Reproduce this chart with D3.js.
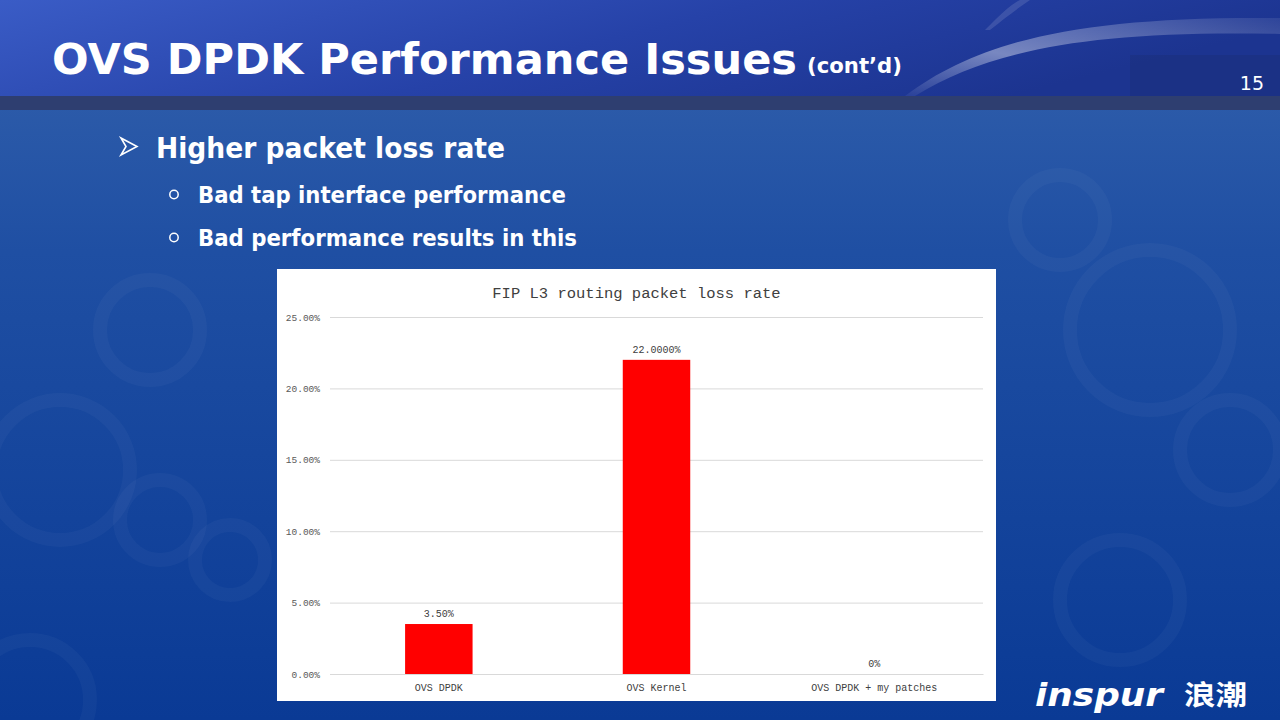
<!DOCTYPE html>
<html>
<head>
<meta charset="utf-8">
<script src="https://cdn.jsdelivr.net/npm/d3@7"></script>
<style>
  html, body { margin: 0; padding: 0; background: #0c3d96; }
  svg { display: block; }
</style>
</head>
<body>
<svg id="slide" width="1280" height="720"></svg>
<script>
// ---- data ----
const categories = ["OVS DPDK", "OVS Kernel", "OVS DPDK + my patches"];
const values = [0.035, 0.22, 0];
const valueLabels = ["3.50%", "22.0000%", "0%"];
const yTicks = [0, 0.05, 0.10, 0.15, 0.20, 0.25];
const chartTitle = "FIP L3 routing packet loss rate";
const slideTitle = "OVS DPDK Performance Issues";
const slideTitleSuffix = "(cont\u2019d)";
const pageNumber = "15";
const bullet = "Higher packet loss rate";
const subBullets = ["Bad tap interface performance", "Bad performance results in this"];

const svg = d3.select("#slide");
const defs = svg.append("defs");

// background gradients
const bodyGrad = defs.append("linearGradient").attr("id", "bodyGrad")
  .attr("x1", 0).attr("y1", 0).attr("x2", 0).attr("y2", 1);
bodyGrad.append("stop").attr("offset", "0%").attr("stop-color", "#3462ad");
bodyGrad.append("stop").attr("offset", "35%").attr("stop-color", "#1f4fa3");
bodyGrad.append("stop").attr("offset", "100%").attr("stop-color", "#0a3a95");

const headGrad = defs.append("linearGradient").attr("id", "headGrad")
  .attr("x1", 0).attr("y1", 0).attr("x2", 1).attr("y2", 0.3);
headGrad.append("stop").attr("offset", "0%").attr("stop-color", "#3a5cc6");
headGrad.append("stop").attr("offset", "55%").attr("stop-color", "#2642a8");
headGrad.append("stop").attr("offset", "100%").attr("stop-color", "#1c3490");

const swoosh = defs.append("linearGradient").attr("id", "swoosh")
  .attr("x1", 0).attr("y1", 1).attr("x2", 1).attr("y2", 0);
swoosh.append("stop").attr("offset", "0%").attr("stop-color", "#ffffff").attr("stop-opacity", 0.05);
swoosh.append("stop").attr("offset", "40%").attr("stop-color", "#ffffff").attr("stop-opacity", 0.4);
swoosh.append("stop").attr("offset", "100%").attr("stop-color", "#ffffff").attr("stop-opacity", 0.08);

svg.append("rect").attr("x", 0).attr("y", 0).attr("width", 1280).attr("height", 720).attr("fill", "url(#bodyGrad)");

// decorative swirls
const swirls = [[60, 470, 70], [160, 520, 40], [230, 560, 35], [30, 700, 60], [1150, 330, 80], [1230, 450, 50], [1120, 600, 60], [150, 330, 50], [1060, 220, 45]];
svg.append("g").selectAll("circle").data(swirls).join("circle")
  .attr("cx", d => d[0]).attr("cy", d => d[1]).attr("r", d => d[2])
  .attr("fill", "none").attr("stroke", "#ffffff").attr("stroke-opacity", 0.03).attr("stroke-width", 14);

// header
svg.append("rect").attr("x", 0).attr("y", 0).attr("width", 1280).attr("height", 96).attr("fill", "url(#headGrad)");
svg.append("rect").attr("x", 1130).attr("y", 55).attr("width", 150).attr("height", 41).attr("fill", "#1a2a6e").attr("opacity", 0.3);
svg.append("rect").attr("x", 0).attr("y", 96).attr("width", 1280).attr("height", 14).attr("fill", "#2e3e70");
svg.append("path")
  .attr("d", "M905,96 C980,40 1080,16 1280,18 L1280,34 C1090,30 990,50 915,96 Z")
  .attr("fill", "url(#swoosh)");
svg.append("path")
  .attr("d", "M985,30 C1000,15 1010,5 1020,0 L1030,0 C1018,8 1005,18 990,30 Z")
  .attr("fill", "#ffffff").attr("opacity", 0.12);

// slide title
svg.append("text").attr("x", 52).attr("y", 74)
  .attr("font-family", "DejaVu Sans").attr("font-weight", "bold").attr("font-size", 42)
  .attr("fill", "#ffffff").attr("textLength", 745).attr("lengthAdjust", "spacingAndGlyphs")
  .text(slideTitle);
svg.append("text").attr("x", 807).attr("y", 73)
  .attr("font-family", "DejaVu Sans").attr("font-weight", "bold").attr("font-size", 21)
  .attr("fill", "#ffffff").attr("textLength", 95).attr("lengthAdjust", "spacingAndGlyphs")
  .text(slideTitleSuffix);
svg.append("text").attr("x", 1264).attr("y", 90).attr("text-anchor", "end")
  .attr("font-family", "DejaVu Sans").attr("font-size", 19).attr("fill", "#ffffff")
  .text(pageNumber);

// bullets
svg.append("path")
  .attr("d", "M121,138 L137,146.5 L121,155 L126,146.5 Z")
  .attr("fill", "none").attr("stroke", "#ffffff").attr("stroke-width", 1.6).attr("stroke-linejoin", "miter");
svg.append("text").attr("x", 156).attr("y", 158)
  .attr("font-family", "DejaVu Sans").attr("font-weight", "bold").attr("font-size", 28)
  .attr("fill", "#ffffff").attr("textLength", 349).attr("lengthAdjust", "spacingAndGlyphs")
  .text(bullet);
const subLens = [368, 379];
subBullets.forEach((t, i) => {
  const by = 203 + i * 43;
  svg.append("circle").attr("cx", 174).attr("cy", by - 8.5).attr("r", 4.2)
    .attr("fill", "none").attr("stroke", "#ffffff").attr("stroke-width", 1.5);
  svg.append("text").attr("x", 198).attr("y", by)
    .attr("font-family", "DejaVu Sans").attr("font-weight", "bold").attr("font-size", 23)
    .attr("fill", "#ffffff").attr("textLength", subLens[i]).attr("lengthAdjust", "spacingAndGlyphs")
    .text(t);
});

// logo
svg.append("text").attr("x", 1035).attr("y", 706)
  .attr("font-family", "DejaVu Sans").attr("font-weight", "bold").attr("font-style", "italic")
  .attr("font-size", 32).attr("fill", "#ffffff").attr("textLength", 128).attr("lengthAdjust", "spacingAndGlyphs")
  .text("inspur");
svg.append("text").attr("x", 1184).attr("y", 705)
  .attr("font-family", "Noto Sans CJK SC").attr("font-weight", "bold")
  .attr("font-size", 27).attr("fill", "#ffffff").attr("textLength", 63).attr("lengthAdjust", "spacingAndGlyphs")
  .text("浪潮");

// chart panel
const panel = { x: 277, y: 269, w: 719, h: 432 };
svg.append("rect").attr("x", panel.x).attr("y", panel.y).attr("width", panel.w).attr("height", panel.h).attr("fill", "#ffffff");

const plot = { left: 330, right: 983, top: 317, bottom: 674 };
const x = d3.scaleBand().domain(categories).range([plot.left, plot.right])
  .paddingInner(0.69).paddingOuter(0.345);
const y = d3.scaleLinear().domain([0, 0.25]).range([plot.bottom, plot.top]);

const mono = "'Liberation Mono', 'Courier New', monospace";

// gridlines
const yAxis = d3.axisLeft(y).tickValues(yTicks).tickFormat(d3.format(".2%"))
  .tickSize(-(plot.right - plot.left)).tickPadding(10);
const gy = svg.append("g").attr("transform", `translate(${plot.left},0)`).call(yAxis);
gy.select(".domain").remove();
gy.selectAll(".tick line").attr("stroke", "#d9d9d9").attr("stroke-width", 1);
gy.selectAll(".tick text").attr("font-family", mono).attr("font-size", 9.5).attr("fill", "#595959");

// bars
svg.append("g").selectAll("rect").data(values).join("rect")
  .attr("x", (d, i) => x(categories[i]))
  .attr("width", x.bandwidth())
  .attr("y", d => y(d))
  .attr("height", d => y(0) - y(d))
  .attr("fill", "#ff0000");

// x axis
const xAxis = d3.axisBottom(x).tickSize(0).tickPadding(10);
const gx = svg.append("g").attr("transform", `translate(0,${plot.bottom})`).call(xAxis);
gx.select(".domain").attr("stroke", "#d9d9d9");
gx.selectAll(".tick text").attr("font-family", mono).attr("font-size", 10).attr("fill", "#404040");

// value labels
svg.append("g").selectAll("text").data(values).join("text")
  .attr("x", (d, i) => x(categories[i]) + x.bandwidth() / 2)
  .attr("y", d => y(d) - 7)
  .attr("text-anchor", "middle")
  .attr("font-family", mono).attr("font-size", 10).attr("fill", "#404040")
  .text((d, i) => valueLabels[i]);

// chart title
svg.append("text").attr("x", panel.x + panel.w / 2).attr("y", 298)
  .attr("text-anchor", "middle").attr("font-family", mono).attr("font-size", 15.5)
  .attr("fill", "#404040").text(chartTitle);
</script>
</body>
</html>
